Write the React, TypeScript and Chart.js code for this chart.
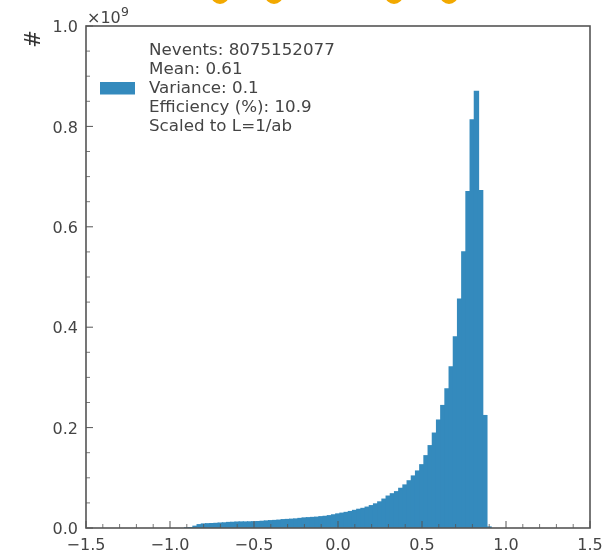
import React, { useEffect, useRef } from "react";
import { Chart, registerables } from "chart.js";

Chart.register(...registerables);

const BIN_LOW = -0.9135;
const BIN_WIDTH = 0.025;
// histogram contents, left to right, in units of 1e9
const binHeights = [
  0.0003, 0.0008, 0.0035, 0.0066, 0.008, 0.0085, 0.0088, 0.0092, 0.0098, 0.0102,
  0.011, 0.0113, 0.0118, 0.012, 0.012, 0.0122, 0.0124, 0.0128, 0.0133, 0.014,
  0.0146, 0.015, 0.0156, 0.0166, 0.017, 0.0175, 0.018, 0.019, 0.02, 0.0205,
  0.021, 0.0215, 0.0225, 0.0232, 0.0245, 0.0262, 0.028, 0.0295, 0.031, 0.0328,
  0.035, 0.0372, 0.039, 0.0415, 0.0445, 0.048, 0.052, 0.0575, 0.0635, 0.0682,
  0.0723, 0.079, 0.0857, 0.094, 0.1036, 0.1135, 0.126, 0.144, 0.164, 0.189,
  0.215, 0.244, 0.277, 0.321, 0.381, 0.456, 0.55, 0.67, 0.813, 0.87,
  0.672, 0.224, 0.002,
];
const legendLines = [
  "Nevents: 8075152077",
  "Mean: 0.61",
  "Variance: 0.1",
  "Efficiency (%): 10.9",
  "Scaled to L=1/ab",
];
const xTicks = [-1.5, -1.0, -0.5, 0.0, 0.5, 1.0, 1.5];
const yTicks = [0.0, 0.2, 0.4, 0.6, 0.8, 1.0];
const xMinorTicks = [
  -1.4, -1.3, -1.2, -1.1, -0.9, -0.8, -0.7, -0.6, -0.4, -0.3, -0.2, -0.1, 0.1, 0.2, 0.3, 0.4,
  0.6, 0.7, 0.8, 0.9, 1.1, 1.2, 1.3, 1.4,
];
const yMinorTicks = [
  0.05, 0.1, 0.15, 0.25, 0.3, 0.35, 0.45, 0.5, 0.55, 0.65, 0.7, 0.75, 0.85, 0.9, 0.95,
];
const BLUE = "#348ABD";
const INK = "#444444";
const AXIS = "#555555";
const FONT = "'DejaVu Sans'";
const offsetLabel = "×10";
const offsetExponent = "9";
const emojiCentres = [220, 274, 394, 449];

const decorPlugin = {
  id: "decor",
  afterDatasetsDraw(chart: any) {
    const { ctx, chartArea: a, scales } = chart;
    const x = scales.x;
    const y = scales.y;
    ctx.save();
    // partial emoji row cut off by the top of the screenshot
    ctx.fillStyle = "#F2A900";
    emojiCentres.forEach((c) => {
      ctx.beginPath();
      ctx.arc(c, -5, 9, 0, Math.PI * 2);
      ctx.fill();
    });
    // frame
    ctx.strokeStyle = AXIS;
    ctx.lineWidth = 1.6;
    ctx.strokeRect(a.left, a.top, a.right - a.left, a.bottom - a.top);
    // inward ticks, bottom and left only
    const tick = (x0: number, y0: number, x1: number, y1: number, w: number) => {
      ctx.lineWidth = w;
      ctx.beginPath();
      ctx.moveTo(x0, y0);
      ctx.lineTo(x1, y1);
      ctx.stroke();
    };
    xTicks.forEach((v) => {
      const p = x.getPixelForValue(v);
      tick(p, a.bottom, p, a.bottom - 7, 1);
    });
    xMinorTicks.forEach((v) => {
      const p = x.getPixelForValue(v);
      tick(p, a.bottom, p, a.bottom - 4, 0.8);
    });
    yTicks.forEach((v) => {
      const p = y.getPixelForValue(v);
      tick(a.left, p, a.left + 7, p, 1);
    });
    yMinorTicks.forEach((v) => {
      const p = y.getPixelForValue(v);
      tick(a.left, p, a.left + 4, p, 0.8);
    });
    // scale offset
    ctx.fillStyle = INK;
    ctx.textBaseline = "alphabetic";
    ctx.textAlign = "left";
    ctx.font = `16px ${FONT}`;
    ctx.fillText(offsetLabel, a.left + 1, 22.5);
    ctx.font = `12.5px ${FONT}`;
    ctx.fillText(offsetExponent, a.left + 35, 15.5);
    // legend
    ctx.font = `16.7px ${FONT}`;
    ctx.textBaseline = "middle";
    legendLines.forEach((line, i) => ctx.fillText(line, 149, 50.5 + i * 19.1));
    ctx.fillStyle = BLUE;
    ctx.fillRect(100, 82, 35, 12.5);
    ctx.restore();
  },
};

export default function App() {
  const ref = useRef<HTMLCanvasElement>(null);
  useEffect(() => {
    const chart = new Chart(ref.current as HTMLCanvasElement, {
      type: "bar",
      data: {
        datasets: [
          {
            label: legendLines.join(" / "),
            data: binHeights.map((h, i) => ({ x: BIN_LOW + (i + 0.5) * BIN_WIDTH, y: h })),
            backgroundColor: BLUE,
            borderWidth: 0,
            inflateAmount: 0.6,
            barPercentage: 1,
            categoryPercentage: 1,
          },
        ],
      },
      options: {
        animation: false,
        responsive: false,
        layout: { padding: { top: 26, right: 21, left: 0, bottom: 0 } },
        plugins: { legend: { display: false }, tooltip: { enabled: false } },
        scales: {
          x: {
            type: "linear",
            min: -1.5,
            max: 1.5,
            offset: false,
            grid: { display: false },
            border: { display: false },
            afterFit: (s: any) => {
              s.height = 22;
            },
            afterBuildTicks: (s: any) => {
              s.ticks = xTicks.map((value) => ({ value }));
            },
            ticks: {
              maxRotation: 0,
              autoSkip: false,
              padding: 0,
              color: INK,
              font: { family: FONT, size: 16 },
              callback: (v: any) => Number(v).toFixed(1).replace("-", "\u2212"),
            },
          },
          y: {
            min: 0,
            max: 1,
            grid: { display: false },
            border: { display: false },
            afterFit: (s: any) => {
              s.width = 86;
            },
            afterBuildTicks: (s: any) => {
              s.ticks = yTicks.map((value) => ({ value }));
            },
            title: {
              display: true,
              text: "#\u2009",
              align: "end",
              color: "#333333",
              font: { family: FONT, size: 21 },
              padding: { top: 22, bottom: 0 },
            },
            ticks: {
              padding: 0,
              labelOffset: 2,
              color: INK,
              font: { family: FONT, size: 16 },
              callback: (v: any) => Number(v).toFixed(1),
            },
          },
        },
      },
      plugins: [decorPlugin],
    } as any);
    return () => chart.destroy();
  }, []);
  return (
    <div style={{ position: "absolute", left: 0, top: 0, width: 611, height: 550, background: "#fff" }}>
      <canvas ref={ref} width={611} height={550} style={{ display: "block" }} />
    </div>
  );
}
